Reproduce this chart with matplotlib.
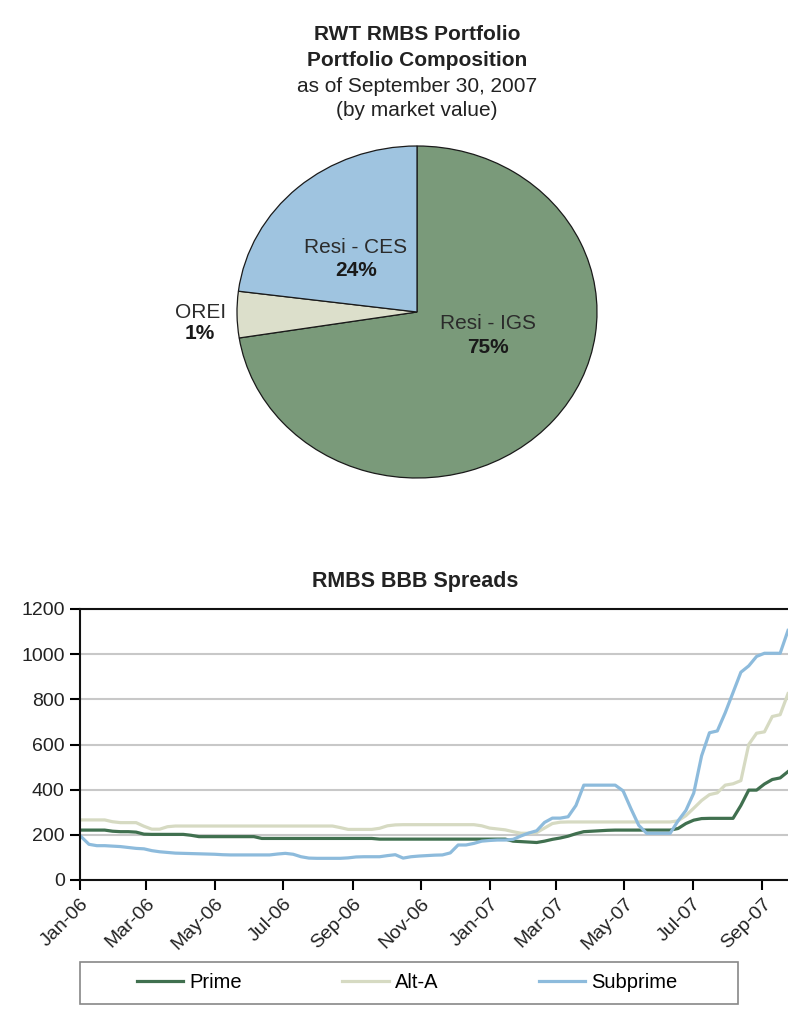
import matplotlib.pyplot as plt
import matplotlib.dates as mdates
import pandas as pd
from matplotlib.patches import Rectangle

plt.rcParams['font.family'] = ['Liberation Sans', 'DejaVu Sans']

# pie: portfolio composition (slice sizes as drawn, labels as printed)
pie_names = ['Resi - IGS', 'OREI', 'Resi - CES']
pie_pct_text = ['75%', '1%', '24%']
pie_sizes = [72.5, 4.5, 23.0]
pie_colors = ['#7a9a7a', '#dcdfcb', '#9fc4e0']

# line chart: weekly RMBS BBB spreads (bp)
week_start = '2006-01-02'
prime = [221, 221, 221, 221, 216, 214, 214, 212, 203, 202,
         202, 202, 202, 202, 198, 192, 192, 192, 192, 192,
         192, 192, 192, 184, 184, 184, 184, 184, 184, 184,
         184, 184, 184, 184, 184, 184, 184, 184, 181, 181,
         181, 181, 181, 181, 181, 181, 181, 181, 181, 181,
         181, 181, 181, 181, 181, 172, 170, 168, 166, 172,
         180, 186, 194, 205, 214, 216, 218, 220, 221, 221,
         221, 221, 221, 221, 221, 221, 228, 250, 265, 272,
         273, 273, 273, 273, 330, 398, 398, 425, 445, 452,
         480]
alt_a = [266, 266, 266, 266, 258, 254, 254, 254, 238, 225,
         225, 236, 239, 239, 239, 239, 239, 239, 239, 239,
         239, 239, 239, 239, 239, 239, 239, 239, 239, 239,
         239, 239, 239, 232, 224, 224, 224, 224, 229, 240,
         244, 245, 245, 245, 245, 245, 245, 245, 245, 245,
         245, 240, 230, 226, 222, 214, 207, 207, 210, 230,
         250, 256, 257, 257, 257, 257, 257, 257, 257, 257,
         257, 257, 257, 257, 257, 257, 262, 285, 318, 352,
         378, 386, 420, 426, 440, 600, 650, 656, 724, 732,
         825]
subprime = [192, 158, 152, 152, 150, 148, 144, 140, 138, 130,
            125, 122, 119, 118, 117, 116, 115, 114, 112, 111,
            111, 111, 111, 111, 111, 115, 118, 114, 103, 97,
            96, 96, 96, 96, 98, 102, 103, 103, 103, 108,
            112, 97, 103, 106, 108, 110, 111, 120, 155, 155,
            162, 172, 175, 177, 177, 180, 195, 208, 218, 255,
            274, 274, 280, 330, 420, 420, 420, 420, 420, 395,
            316, 242, 207, 207, 207, 207, 262, 308, 385, 550,
            652, 660, 740, 830, 920, 948, 990, 1004, 1004, 1004,
            1105]
series_names = ['Prime', 'Alt-A', 'Subprime']
series_colors = ['#40704f', '#d6dac2', '#8dbbdc']
y_ticks = [0, 200, 400, 600, 800, 1000, 1200]


def main():
    fig = plt.figure(figsize=(7.88, 10.09), dpi=100)
    W, H = 788.0, 1009.0

    # pie title
    title_lines = [('RWT RMBS Portfolio', 'bold', 35),
                   ('Portfolio Composition', 'bold', 61),
                   ('as of September 30, 2007', 'normal', 86),
                   ('(by market value)', 'normal', 110)]
    for txt, weight, ypix in title_lines:
        fig.text(417 / W, 1 - ypix / H, txt, ha='center', va='center',
                 fontsize=15, fontweight=weight, color='#222222')

    ax_pie = fig.add_axes([237 / W, 1 - 478 / H, 360 / W, 332 / H])
    ax_pie.pie(pie_sizes, colors=pie_colors, startangle=90, counterclock=False,
               wedgeprops=dict(edgecolor='#1a1a1a', linewidth=0.9))
    ax_pie.set_aspect('auto')
    ax_pie.set_xlim(-1, 1)
    ax_pie.set_ylim(-1, 1)

    # label positions in the pie's own coordinates
    label_pos = [(0.394, -0.072, -0.211), (-1.205, 0.0, -0.127), (-0.34, 0.39, 0.247)]
    for name, pct, (x, y1, y2) in zip(pie_names, pie_pct_text, label_pos):
        ax_pie.text(x, y1, name, ha='center', va='center', fontsize=15, color='#2b2b2b')
        ax_pie.text(x, y2, pct, ha='center', va='center', fontsize=15,
                    fontweight='bold', color='#1a1a1a')

    # line chart
    ax = fig.add_axes([80 / W, 1 - 880 / H, 708 / W, 271 / H])
    dates = pd.date_range(week_start, periods=len(prime), freq='7D')
    handles = []
    for vals, name, color in zip([prime, alt_a, subprime], series_names, series_colors):
        line, = ax.plot(dates, vals, color=color, lw=2.3, label=name, solid_joinstyle='round')
        handles.append(line)

    ax.set_ylim(0, 1200)
    ax.set_yticks(y_ticks)
    ax.set_xlim(pd.Timestamp('2006-01-01'), pd.Timestamp('2007-09-24'))
    ax.set_xticks(pd.date_range('2006-01-01', '2007-09-01', freq='2MS'))
    ax.xaxis.set_major_formatter(mdates.DateFormatter('%b-%y'))
    ax.grid(axis='y', color='#c8c8c8', lw=1.5)
    ax.set_axisbelow(True)
    ax.tick_params(direction='out', length=7, width=1.5, labelsize=14,
                   labelcolor='#222222', pad=4)
    for lbl in ax.get_xticklabels():
        lbl.set_rotation(45)
        lbl.set_ha('right')
        lbl.set_va('top')
        lbl.set_rotation_mode('anchor')
    ax.spines['right'].set_visible(False)
    for side in ['top', 'left', 'bottom']:
        ax.spines[side].set_linewidth(1.5)
        ax.spines[side].set_color('#111111')

    fig.text(415 / W, 1 - 582 / H, 'RMBS BBB Spreads', ha='center', va='center',
             fontsize=15.5, fontweight='bold', color='#222222')

    # legend box drawn separately so the entries can sit as in the original
    fig.patches.append(Rectangle((80 / W, 1 - 1004 / H), 658 / W, 42 / H,
                                 transform=fig.transFigure, facecolor='white',
                                 edgecolor='#888888', linewidth=1.2))
    fig.legend(handles, series_names, loc='center',
               bbox_to_anchor=(407 / W, 1 - 983 / H), ncol=3, frameon=False,
               fontsize=14.5, handlelength=2.3, handletextpad=0.3,
               columnspacing=5.0)

    fig.savefig('out.png', dpi=100)


if __name__ == '__main__':
    main()
